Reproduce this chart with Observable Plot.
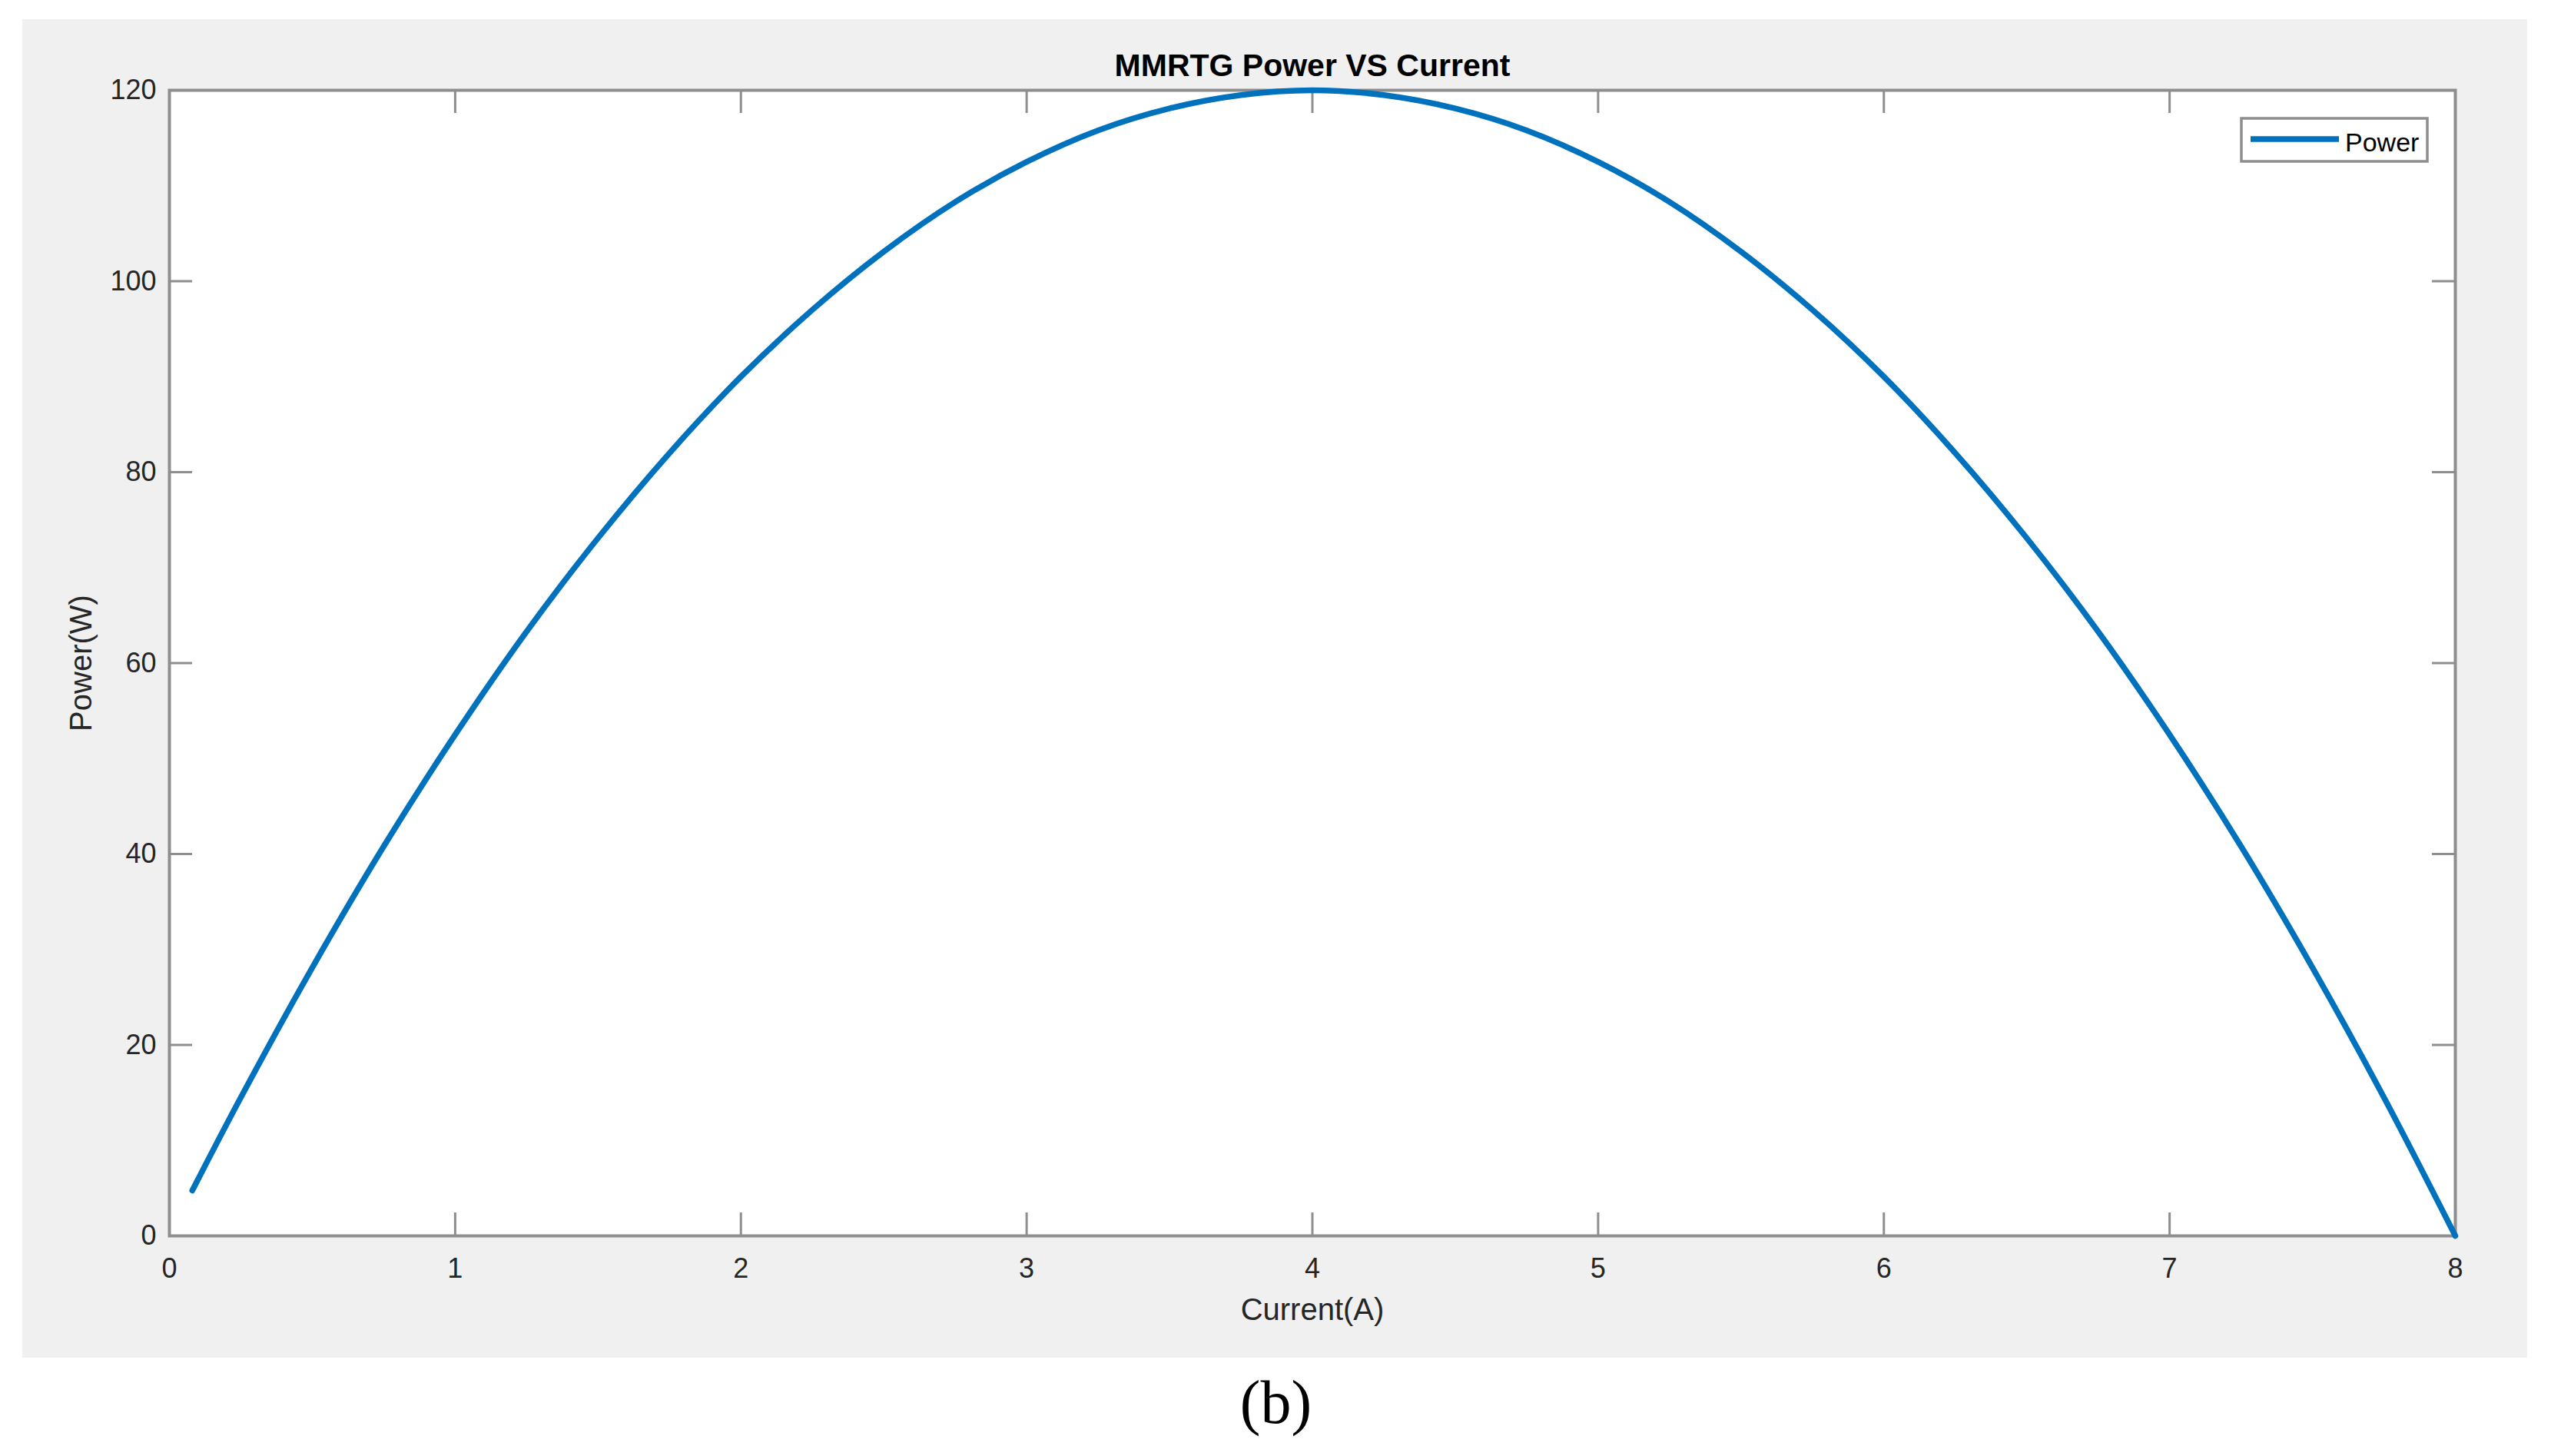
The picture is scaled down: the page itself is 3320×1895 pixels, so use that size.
<!DOCTYPE html>
<html><head><meta charset="utf-8">
<script src="https://cdn.jsdelivr.net/npm/d3@7"></script>
<script src="https://cdn.jsdelivr.net/npm/@observablehq/plot@0.6"></script>
<style>
html,body{margin:0;padding:0;background:#fff;}
#chart svg{display:block;}
</style></head><body><div id="chart"></div>
<script>
// Data
const current = [0.08,0.25,0.5,0.75,1,1.25,1.5,1.75,2,2.25,2.5,2.75,3,3.25,3.5,3.75,4,4.25,4.5,4.75,5,5.25,5.5,5.75,6,6.25,6.5,6.75,7,7.25,7.5,7.75,8];
const power   = [4.75,14.5,28.1,40.8,52.5,63.3,73.1,82.0,90.0,97.0,103.1,108.3,112.5,115.8,118.1,119.5,120,119.5,118.1,115.8,112.5,108.3,103.1,97.0,90.0,82.0,73.1,63.3,52.5,40.8,28.1,14.5,0];
const xTicks = [0,1,2,3,4,5,6,7,8];
const yTicks = [0,20,40,60,80,100,120];
const seriesName = "Power";
const titleText = "MMRTG Power VS Current";
const xLabel = "Current(A)";
const yLabel = "Power(W)";
const captionText = "(b)";

const data = current.map((c, i) => ({current: c, power: power[i]}));

const W = 3320, H = 1895;
const mL = 220, mR = 125, mT = 117, mB = 287;
const frameW = W - mL - mR, frameH = H - mT - mB;
const axisColor = "#8e8e8e";
const tickLen = 30;
const lineColor = "#0072BD";
const sans = "'Liberation Sans', Arial, Helvetica, sans-serif";

const chart = Plot.plot({
  width: W, height: H,
  marginLeft: mL, marginRight: mR, marginTop: mT, marginBottom: mB,
  style: {background: "transparent", fontFamily: sans, overflow: "visible"},
  x: {domain: [0, 8]},
  y: {domain: [0, 120]},
  marks: [
    Plot.frame({fill: "white"}),
    Plot.ruleX(xTicks.slice(1, -1), {stroke: axisColor, strokeWidth: 3, insetTop: frameH - tickLen}),
    Plot.ruleX(xTicks.slice(1, -1), {stroke: axisColor, strokeWidth: 3, insetBottom: frameH - tickLen}),
    Plot.ruleY(yTicks.slice(1, -1), {stroke: axisColor, strokeWidth: 3, insetRight: frameW - tickLen}),
    Plot.ruleY(yTicks.slice(1, -1), {stroke: axisColor, strokeWidth: 3, insetLeft: frameW - tickLen}),
    Plot.frame({stroke: axisColor, strokeWidth: 4}),
    Plot.axisX(xTicks, {tickSize: 0, tickPadding: 29, fontSize: 36, color: "#262626", label: null, tickFormat: d => String(d)}),
    Plot.axisY(yTicks, {tickSize: 0, tickPadding: 17, fontSize: 36, color: "#262626", label: null, tickFormat: d => String(d)}),
    Plot.line(data, {x: "current", y: "power", stroke: lineColor, strokeWidth: 7.5, curve: "catmull-rom"}),
    Plot.text([titleText], {text: d => d, frameAnchor: "top", textAnchor: "middle", dy: -32, fontSize: 41, fontWeight: "bold", fill: "#000", lineAnchor: "middle"}),
    Plot.text([xLabel], {text: d => d, frameAnchor: "bottom", textAnchor: "middle", dy: 97, fontSize: 40, fill: "#262626", lineAnchor: "middle"}),
    Plot.text([yLabel], {text: d => d, frameAnchor: "left", textAnchor: "middle", dx: -114, rotate: -90, fontSize: 40, fill: "#262626", lineAnchor: "middle"}),
    Plot.text([captionText], {text: d => d, frameAnchor: "bottom", textAnchor: "middle", dx: (W / 2) - (mL + frameW / 2), dy: 218, fontSize: 80, fill: "#000", fontFamily: "'Liberation Serif', 'Times New Roman', serif", lineAnchor: "middle"})
  ]
});

const svg = d3.select(chart);
// grey figure background
svg.insert("rect", ":first-child")
  .attr("x", 29).attr("y", 25).attr("width", 3260).attr("height", 1742)
  .attr("fill", "#f0f0f0");

// legend (top-right inside the axes)
const fx1 = mL + frameW;
const lg = svg.append("g");
const boxW = 242, boxH = 56;
const bx = fx1 - 36 - boxW, by = mT + 37;
lg.append("rect").attr("x", bx).attr("y", by).attr("width", boxW).attr("height", boxH)
  .attr("fill", "white").attr("stroke", axisColor).attr("stroke-width", 3.5);
lg.append("line").attr("x1", bx + 12).attr("x2", bx + 127).attr("y1", by + 27).attr("y2", by + 27)
  .attr("stroke", lineColor).attr("stroke-width", 7.5);
lg.append("text").attr("x", bx + 135).attr("y", by + 43)
  .style("font-size", "34px").style("text-anchor", "start")
  .style("font-family", sans).attr("fill", "#000").text(seriesName);

document.getElementById("chart").append(chart);
</script></body></html>
